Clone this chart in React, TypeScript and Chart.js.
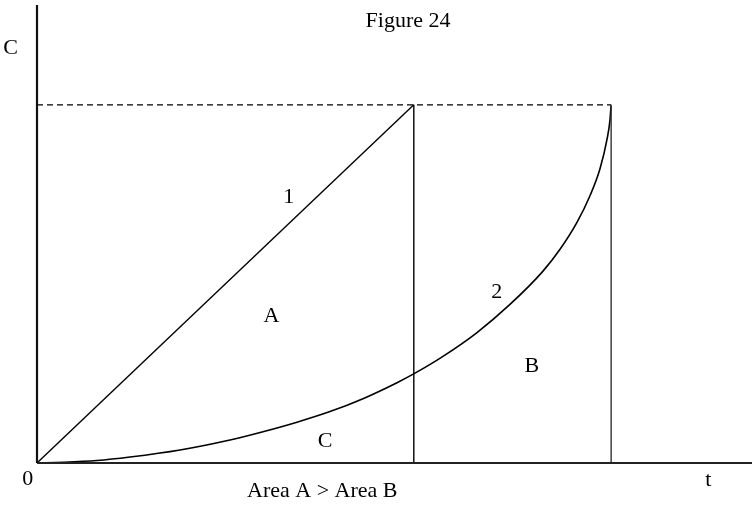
import React, { useEffect, useRef } from "react";
import { Chart, registerables } from "chart.js";

Chart.register(...registerables);

// Axis extents (data units)
const T_MAX = 10;
const C_MAX = 10.23;
const C_LEVEL = 8;
const T1 = 5.27; // end of line 1
const T2 = 8.03; // end of curve 2

// Curve 2 samples
const curve2T = [0, 0.364, 0.839, 1.301, 2.0, 2.699, 3.161, 3.636, 4.098, 4.559, 5.035, 5.287, 5.678, 6.154, 6.615, 7.077, 7.315, 7.552, 7.734, 7.874, 7.972, 8.014, 8.028];
const curve2C = [0, 0.016, 0.056, 0.134, 0.291, 0.514, 0.699, 0.912, 1.149, 1.437, 1.794, 2.007, 2.382, 2.914, 3.542, 4.286, 4.773, 5.374, 5.969, 6.572, 7.229, 7.665, 7.978];

// Text labels (placed in data coordinates, baseline)
const labelTexts = ["Figure 24", "C", "0", "t", "1", "A", "2", "B", "C", "Area A > Area B"];
const labelT = [5.19, -0.37, -0.13, 9.39, 3.52, 3.28, 6.43, 6.92, 4.03, 3.99];
const labelC = [9.74, 9.14, -0.49, -0.51, 5.81, 3.15, 3.69, 2.03, 0.36, -0.76];

const FONT = '22px "Liberation Serif", "DejaVu Serif", serif';

const labelPlugin = {
  id: "labels",
  afterDraw(chart: any) {
    const { ctx, scales } = chart;
    ctx.save();
    ctx.fillStyle = "#000";
    ctx.font = FONT;
    ctx.textAlign = "center";
    ctx.textBaseline = "alphabetic";
    labelTexts.forEach((txt, i) => {
      const x = scales.x.getPixelForValue(labelT[i]);
      const y = scales.y.getPixelForValue(labelC[i]);
      ctx.fillText(txt, x, y);
    });
    ctx.restore();
  },
};

export default function App() {
  const ref = useRef<HTMLCanvasElement | null>(null);

  useEffect(() => {
    if (!ref.current) return;
    const seg = (pts: { x: number; y: number }[], width: number, color = "#000", dash: number[] = []) => ({
      data: pts,
      borderColor: color,
      borderWidth: width,
      borderDash: dash,
      pointRadius: 0,
      fill: false,
      tension: 0,
      clip: false as any,
    });
    const chart = new Chart(ref.current, {
      type: "line",
      data: {
        datasets: [
          seg([{ x: 0, y: 0 }, { x: 0, y: C_MAX }], 2.2, "#111"),
          seg([{ x: 0, y: 0 }, { x: T_MAX, y: 0 }], 2.2, "#222"),
          seg([{ x: 0, y: C_LEVEL }, { x: T2, y: C_LEVEL }], 1.3, "#000", [6, 4]),
          seg([{ x: 0, y: 0 }, { x: T1, y: C_LEVEL }], 1.4),
          seg([{ x: T1, y: 0 }, { x: T1, y: C_LEVEL }], 1.4),
          seg([{ x: T2, y: 0 }, { x: T2, y: C_LEVEL }], 1.4, "#333"),
          {
            ...seg(curve2T.map((t, i) => ({ x: t, y: curve2C[i] })), 1.6),
            cubicInterpolationMode: "monotone" as const,
          },
        ],
      },
      options: {
        animation: false,
        responsive: true,
        maintainAspectRatio: false,
        layout: { padding: { left: 37, right: 0, top: 5, bottom: 44 } },
        plugins: { legend: { display: false }, tooltip: { enabled: false }, title: { display: false } },
        events: [],
        scales: {
          x: { type: "linear", min: 0, max: T_MAX, display: false },
          y: { type: "linear", min: 0, max: C_MAX, display: false },
        },
      },
      plugins: [labelPlugin],
    });
    return () => chart.destroy();
  }, []);

  return (
    <div style={{ position: "absolute", left: 0, top: 0, width: 752, height: 507, background: "#fff" }}>
      <canvas ref={ref} />
    </div>
  );
}
